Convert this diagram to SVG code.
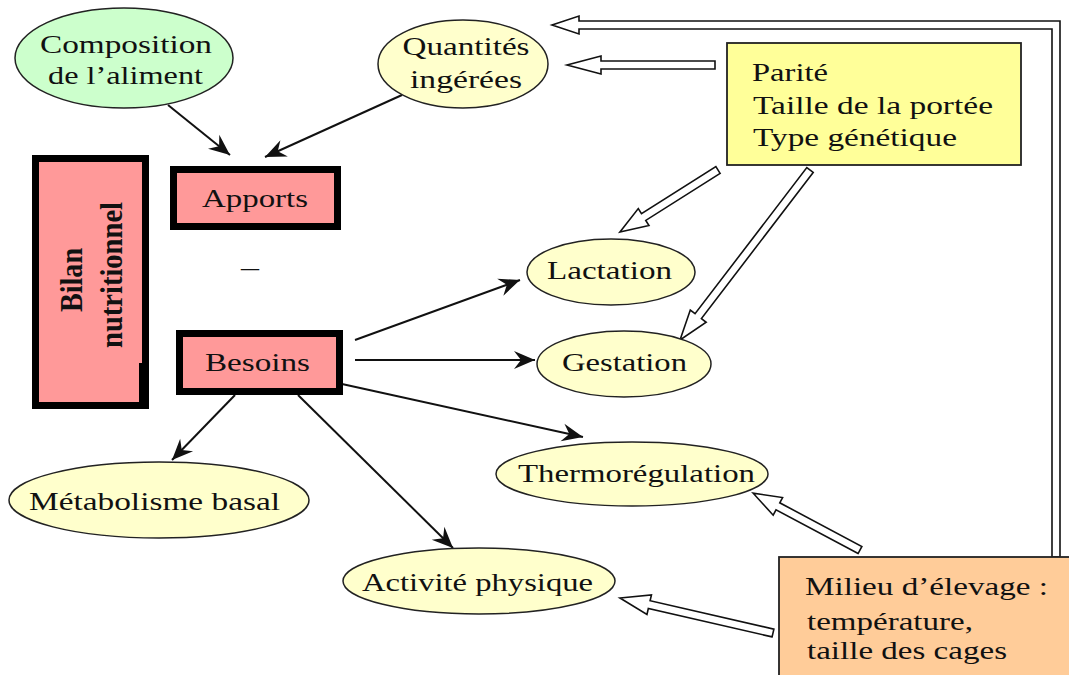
<svg xmlns="http://www.w3.org/2000/svg" width="1069" height="675" viewBox="0 0 1069 675">
<style>
text{font-family:"Liberation Serif","Times New Roman",serif;font-size:26px;fill:#111}
.c{text-anchor:middle}
.ell{stroke:#222;stroke-width:1.5}
.y{fill:#ffffcc}
.box{fill:#ff9999;stroke:#000;stroke-width:7}
.ln{stroke:#111;stroke-width:2;fill:none;marker-end:url(#ah)}
.hol{fill:#fff;stroke:#111;stroke-width:1.6;stroke-linejoin:miter}
</style>
<defs>
<marker id="ah" viewBox="-22 -10 24 20" refX="0" refY="0" markerWidth="24" markerHeight="20" markerUnits="userSpaceOnUse" orient="auto">
<path d="M0,0 L-21,-9 L-14,0 L-21,9 Z" fill="#111"/>
</marker>
</defs>
<rect width="1069" height="675" fill="#fff"/>

<g id="connectors">
<line class="ln" x1="168" y1="105" x2="230" y2="155"/>
<line class="ln" x1="402" y1="95" x2="265" y2="157"/>
<line class="ln" x1="355" y1="340" x2="520" y2="280"/>
<line class="ln" x1="355" y1="360" x2="535" y2="360"/>
<line class="ln" x1="342" y1="384" x2="583" y2="437"/>
<line class="ln" x1="298" y1="395" x2="453" y2="548"/>
<line class="ln" x1="235" y1="395" x2="172" y2="460"/>
<polygon class="hol" points="552,25 579,16 579,21 1060,21 1060,557 1052,557 1052,29 579,29 579,34"/>
<polygon class="hol" transform="translate(715,65) rotate(180)" points="0,-4 114,-4 114,-9 148,0 114,9 114,4 0,4"/>
<polygon class="hol" transform="translate(718,170) rotate(147.7)" points="0,-4 88,-4 88,-10 116,0 88,10 88,4 0,4"/>
<polygon class="hol" transform="translate(810,170) rotate(127.4)" points="0,-4 184,-4 184,-10 214,0 184,10 184,4 0,4"/>
<polygon class="hol" transform="translate(860,550) rotate(-152)" points="0,-4 93,-4 93,-10 121,0 93,10 93,4 0,4"/>
<polygon class="hol" transform="translate(773,633) rotate(-167.1)" points="0,-4 127,-4 127,-10 157,0 127,10 127,4 0,4"/>
</g>

<g id="composition">
<ellipse class="ell" cx="124" cy="58" rx="109" ry="50" fill="#ccffcc"/>
<text class="c" x="126" y="53" textLength="172" lengthAdjust="spacingAndGlyphs">Composition</text>
<text class="c" x="125.5" y="84" textLength="155" lengthAdjust="spacingAndGlyphs">de l’aliment</text>
</g>

<g id="quantites">
<ellipse class="ell y" cx="463" cy="64" rx="85" ry="44"/>
<text class="c" x="466" y="55" textLength="127" lengthAdjust="spacingAndGlyphs">Quantités</text>
<text class="c" x="466" y="88" textLength="112" lengthAdjust="spacingAndGlyphs">ingérées</text>
</g>

<g id="bilan">
<rect class="box" x="35.5" y="158.5" width="110" height="247"/>
<rect x="139" y="363" width="4" height="40" fill="#000"/>
<text transform="translate(82,280) scale(1.25,1) rotate(-90)" class="c" font-weight="bold" textLength="64" lengthAdjust="spacingAndGlyphs">Bilan</text>
<text transform="translate(122,275) scale(1.25,1) rotate(-90)" class="c" font-weight="bold" textLength="146" lengthAdjust="spacingAndGlyphs">nutritionnel</text>
</g>

<g id="apports">
<rect class="box" x="173.5" y="169.5" width="164" height="57"/>
<text class="c" x="255" y="207" textLength="106" lengthAdjust="spacingAndGlyphs">Apports</text>
</g>

<g id="moins">
<text class="c" x="250" y="276" font-size="30" textLength="18" lengthAdjust="spacingAndGlyphs">–</text>
</g>

<g id="besoins">
<rect class="box" x="179.5" y="333.5" width="160" height="58"/>
<text class="c" x="257.5" y="371" textLength="105" lengthAdjust="spacingAndGlyphs">Besoins</text>
</g>

<g id="lactation">
<ellipse class="ell y" cx="611" cy="272" rx="84" ry="33"/>
<text class="c" x="609.5" y="279" textLength="125" lengthAdjust="spacingAndGlyphs">Lactation</text>
</g>

<g id="gestation">
<ellipse class="ell y" cx="624" cy="364" rx="87" ry="33"/>
<text class="c" x="624.5" y="371" textLength="125" lengthAdjust="spacingAndGlyphs">Gestation</text>
</g>

<g id="thermoregulation">
<ellipse class="ell y" cx="632" cy="474" rx="136" ry="32"/>
<text class="c" x="636.5" y="482" textLength="237" lengthAdjust="spacingAndGlyphs">Thermorégulation</text>
</g>

<g id="activite">
<ellipse class="ell y" cx="479" cy="581" rx="136" ry="33"/>
<text class="c" x="477.5" y="591" textLength="231" lengthAdjust="spacingAndGlyphs">Activité physique</text>
</g>

<g id="metabolisme">
<ellipse class="ell y" cx="159" cy="500" rx="150" ry="38"/>
<text class="c" x="154.5" y="510" textLength="251" lengthAdjust="spacingAndGlyphs">Métabolisme basal</text>
</g>

<g id="facteurs">
<rect x="727" y="43" width="294" height="122" fill="#ffff99" stroke="#222" stroke-width="1.8"/>
<text x="752" y="81" textLength="76" lengthAdjust="spacingAndGlyphs">Parité</text>
<text x="753" y="114" textLength="240" lengthAdjust="spacingAndGlyphs">Taille de la portée</text>
<text x="753" y="146" textLength="204" lengthAdjust="spacingAndGlyphs">Type génétique</text>
</g>

<g id="milieu">
<rect x="779" y="557" width="300" height="130" fill="#ffcc99" stroke="#222" stroke-width="1.8"/>
<text x="805" y="595" textLength="243" lengthAdjust="spacingAndGlyphs">Milieu d’élevage :</text>
<text x="807" y="630" textLength="166" lengthAdjust="spacingAndGlyphs">température,</text>
<text x="807" y="659" textLength="200" lengthAdjust="spacingAndGlyphs">taille des cages</text>
</g>
</svg>
